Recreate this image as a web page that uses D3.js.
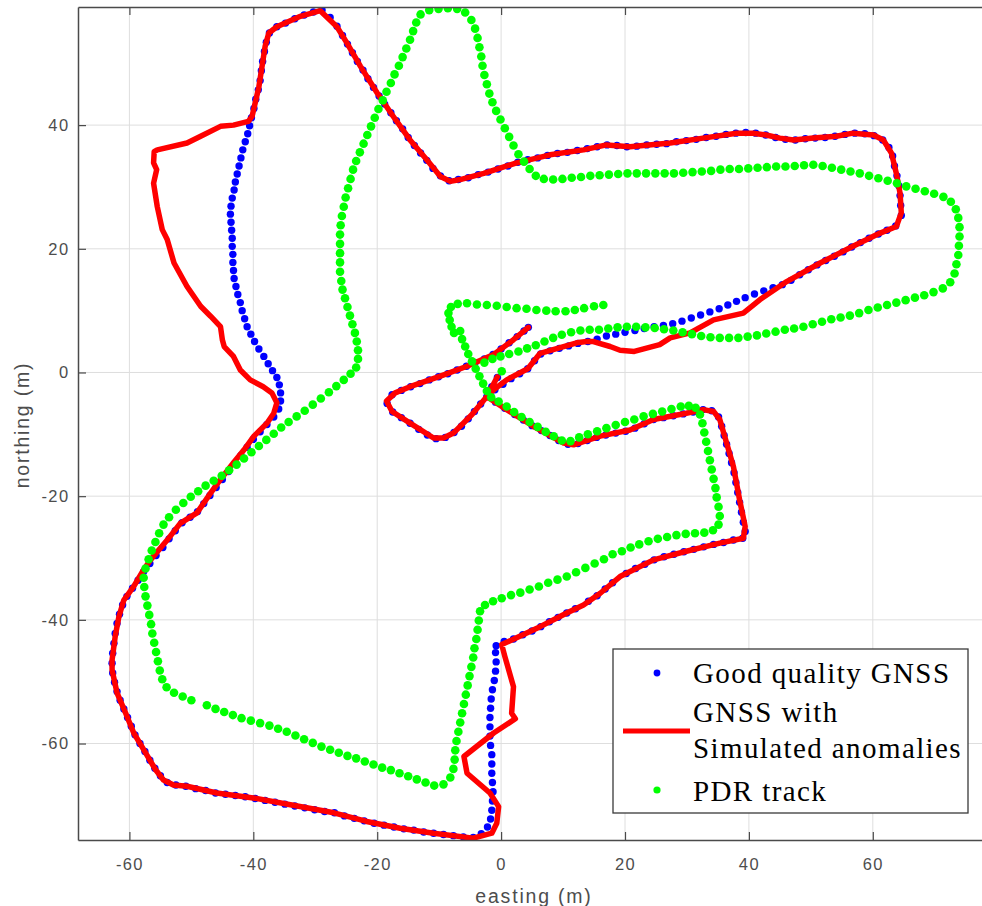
<!DOCTYPE html>
<html><head><meta charset="utf-8">
<script src="https://cdn.jsdelivr.net/npm/d3@7"></script>
<style>body{margin:0;background:#fff}svg{display:block}</style>
</head><body>
<svg id="chart" width="982" height="906"></svg>
<script>
const xTicks = [-60, -40, -20, 0, 20, 40, 60];
const yTicks = [-60, -40, -20, 0, 20, 40];
const xLabel = "easting (m)";
const yLabel = "northing (m)";
const legendLabels = ["Good quality GNSS", "GNSS with", "Simulated anomalies", "PDR track"];

// Good quality GNSS (blue dots), [easting, northing]
const goodGnss = [
[-0.6,-0.8],[-1.5,-2.3],[-2.3,-3.9],[-0.9,-4.8],[0.6,-5.8],[2.2,-6.8],[3.6,-7.7],[5.0,-8.6],[6.5,-9.4],[7.9,-10.2],[9.3,-11.0],[10.8,-11.6],
[12.4,-11.5],[13.9,-11.0],[15.4,-10.5],[16.9,-10.1],[18.5,-9.8],[20.1,-9.5],[21.6,-9.0],[23.1,-8.3],[24.6,-7.6],[26.2,-7.3],[27.8,-7.0],[29.4,-6.7],
[31.0,-6.4],[32.6,-6.0],[34.0,-6.2],[35.1,-7.2],[35.6,-8.7],[36.0,-10.2],[36.4,-11.6],[36.8,-13.1],[37.2,-14.6],[37.6,-16.2],[37.9,-17.8],[38.2,-19.4],
[38.5,-21.0],[38.8,-22.6],[39.1,-24.2],[39.4,-25.7],[39.0,-26.8],[37.5,-27.1],[35.9,-27.5],[34.3,-27.8],[32.7,-28.2],[31.1,-28.6],[29.5,-29.0],[27.9,-29.4],
[26.3,-29.8],[24.7,-30.3],[23.2,-31.0],[21.7,-31.7],[20.2,-32.5],[18.0,-34.0],[16.8,-35.0],[15.5,-36.1],[14.1,-37.0],[12.0,-38.2],[10.6,-38.9],[9.2,-39.6],
[7.8,-40.3],[6.4,-41.1],[5.0,-41.8],[3.5,-42.4],[2.0,-43.1],[0.5,-43.5],[-0.8,-44.2],[-0.9,-45.3],[-0.8,-46.8],[-0.9,-48.3],[-1.1,-49.8],[-1.4,-51.3],
[-1.6,-52.8],[-1.7,-54.3],[-1.8,-55.8],[-1.8,-57.3],[-1.8,-58.8],[-1.7,-60.3],[-1.5,-61.8],[-1.5,-63.3],[-1.5,-64.8],[-1.4,-66.3],[-1.3,-67.8],[-1.4,-69.3],
[-1.5,-70.8],[-1.7,-72.2],[-2.2,-73.5],[-3.2,-74.6],[-4.5,-75.2],[-6.1,-75.1],[-7.7,-74.9],[-9.3,-74.7],[-10.9,-74.5],[-12.5,-74.3],[-14.1,-74.0],[-15.7,-73.8],
[-17.3,-73.5],[-18.9,-73.2],[-20.5,-72.9],[-22.1,-72.5],[-23.7,-72.1],[-25.3,-71.7],[-26.9,-71.2],[-28.5,-71.0],[-30.1,-70.7],[-31.7,-70.4],[-33.3,-70.1],[-34.9,-69.8],
[-36.5,-69.5],[-38.1,-69.2],[-39.7,-68.9],[-41.3,-68.6],[-42.9,-68.4],[-44.5,-68.2],[-46.1,-68.0],[-47.7,-67.6],[-49.3,-67.3],[-50.9,-66.9],[-52.5,-66.7],[-53.9,-66.3],
[-55.0,-65.2],[-55.9,-64.0],[-56.7,-62.7],[-57.5,-61.3],[-58.3,-60.0],[-59.1,-58.6],[-59.7,-57.2],[-60.3,-55.8],[-60.9,-54.4],[-61.5,-53.0],[-62.0,-51.6],[-62.4,-50.1],
[-62.7,-48.6],[-62.8,-47.0],[-62.7,-45.4],[-62.5,-43.8],[-62.3,-42.2],[-62.0,-40.6],[-61.6,-39.1],[-61.1,-37.6],[-60.4,-36.2],[-59.5,-34.9],[-58.6,-33.6],[-57.7,-32.2],
[-56.7,-30.9],[-55.7,-29.6],[-54.6,-28.3],[-53.6,-26.9],[-52.6,-25.6],[-51.5,-24.3],[-50.2,-23.4],[-49.0,-22.5],[-48.0,-21.2],[-47.0,-19.9],[-46.0,-18.6],[-45.0,-17.3],
[-44.0,-16.0],[-43.0,-14.7],[-42.0,-13.4],[-41.0,-12.1],[-40.0,-10.8],[-38.9,-9.6],[-37.8,-8.4],[-36.7,-7.2],[-35.9,-5.9],[-35.6,-4.6],[-35.6,-3.3],[-35.8,-2.0],
[-36.2,-0.8],[-36.9,0.3],[-37.6,1.4],[-38.3,2.6],[-39.1,3.8],[-39.8,5.0],[-40.4,6.2],[-41.0,7.4],[-41.4,8.7],[-41.8,10.0],[-42.1,11.3],[-42.5,12.6],
[-42.8,13.9],[-43.1,15.2],[-43.2,16.5],[-43.3,17.8],[-43.3,19.1],[-43.4,20.4],[-43.4,21.7],[-43.5,23.0],[-43.6,24.3],[-43.7,25.6],[-43.6,26.9],[-43.4,28.2],
[-43.1,29.5],[-42.9,30.8],[-42.6,32.1],[-42.3,33.4],[-42.0,34.7],[-41.7,36.0],[-41.3,37.3],[-40.9,38.6],[-40.6,39.9],[-40.3,41.2],[-39.9,42.7],[-39.6,44.2],
[-39.2,45.7],[-38.9,47.2],[-38.7,48.8],[-38.5,50.3],[-38.2,51.9],[-37.9,53.4],[-37.4,54.9],[-36.2,55.9],[-34.8,56.5],[-33.3,57.2],[-31.8,57.8],[-30.3,58.3],
[-28.9,58.6],[-27.6,57.4],[-26.5,56.0],[-25.6,54.5],[-24.8,53.1],[-24.0,51.7],[-23.2,50.3],[-22.3,48.9],[-21.5,47.5],[-20.6,46.1],[-19.7,44.7],[-18.8,43.4],
[-17.8,42.0],[-16.9,40.7],[-15.9,39.4],[-15.0,38.0],[-14.0,36.7],[-13.0,35.5],[-12.0,34.3],[-11.0,33.0],[-9.8,31.8],[-8.4,31.0],[-6.9,31.2],[-5.3,31.5],
[-3.7,32.0],[-2.1,32.4],[-0.5,32.9],[1.1,33.4],[2.7,34.0],[4.3,34.4],[5.9,34.7],[7.5,35.1],[9.1,35.4],[10.7,35.6],[12.3,35.9],[13.9,36.2],
[15.5,36.5],[17.1,36.8],[18.7,36.7],[20.3,36.5],[21.9,36.6],[23.5,36.8],[25.1,36.9],[26.7,37.0],[28.3,37.3],[29.9,37.5],[31.5,37.7],[33.1,38.0],
[34.7,38.2],[36.3,38.5],[37.9,38.7],[39.5,38.8],[41.1,38.7],[42.7,38.4],[44.3,38.0],[45.9,37.7],[47.5,37.6],[49.1,37.8],[50.7,37.9],[52.3,38.0],
[53.9,38.2],[55.5,38.5],[57.1,38.7],[58.7,38.6],[60.2,38.3],[61.6,37.6],[62.6,36.4],[63.2,35.0],[63.5,33.4],[63.9,31.8],[64.2,30.2],[64.4,28.6],
[64.5,27.0],[64.6,25.4],[63.7,23.7],[62.3,23.0],[60.9,22.4],[59.4,21.7],[58.0,21.0],[56.6,20.3],[55.2,19.5],[53.8,18.8],[52.4,18.1],[51.0,17.4],
[49.6,16.6],[48.2,15.8],[46.8,14.9],[45.4,14.2],[43.9,13.7],[42.4,13.2],[40.9,12.7],[39.4,12.1],[38.0,11.5],[36.6,10.9],[35.2,10.3],[33.7,9.8],
[32.2,9.3],[30.7,8.8],[29.2,8.3],[27.7,7.9],[26.2,7.6],[24.7,7.4],[23.1,7.1],[21.6,6.8],[20.0,6.5],[18.5,6.2],[17.0,5.9],[15.5,5.4],
[14.0,5.0],[12.4,4.7],[10.9,4.3],[9.4,3.9],[7.9,3.5],[6.4,3.0],[5.4,1.9],[4.3,0.6],[3.0,-0.2],[1.6,-1.0],[0.3,-1.9],[-1.0,-2.8],
[-2.2,-3.8],[-3.3,-5.1],[-4.3,-6.3],[-5.3,-7.5],[-6.4,-8.7],[-7.6,-9.7],[-9.0,-10.5],[-10.5,-10.7],[-11.9,-10.1],[-13.3,-9.2],[-14.7,-8.2],[-16.1,-7.3],
[-17.5,-6.4],[-18.4,-5.0],[-17.6,-3.6],[-16.1,-2.9],[-14.6,-2.3],[-13.1,-1.8],[-11.6,-1.2],[-10.1,-0.7],[-8.6,-0.2],[-7.1,0.4],[-5.6,1.0],[-4.2,1.6],
[-2.7,2.2],[-1.3,2.9],[0.0,3.8],[1.3,4.8],[2.6,5.8],[3.7,6.7],[4.4,7.3]
];

// GNSS with simulated anomalies (red line), [easting, northing]
const anomalyGnss = [
[-0.6,-0.7],[-2.3,-3.9],[0.9,-6.0],[5.2,-8.7],[10.1,-11.4],[11.7,-11.7],[16.0,-10.3],[20.8,-9.3],[24.6,-7.6],[29.9,-6.6],[32.6,-6.0],[34.3,-6.3],
[35.3,-7.6],[36.4,-11.4],[37.5,-15.2],[38.5,-20.6],[39.4,-24.9],[39.1,-26.8],[35.3,-27.6],[29.9,-28.9],[24.6,-30.3],[19.2,-33.0],[16.0,-35.7],[13.3,-37.6],
[10.6,-38.9],[6.3,-41.1],[2.5,-42.9],[0.1,-44.0],[0.6,-45.9],[2.0,-50.8],[1.7,-55.1],[2.3,-56.0],[-1.2,-58.3],[-6.0,-62.1],[-5.5,-64.8],[-1.8,-68.0],
[-0.4,-70.2],[-0.7,-72.9],[-1.5,-74.5],[-4.5,-75.3],[-10.9,-74.5],[-16.3,-73.7],[-21.7,-72.6],[-27.0,-71.2],[-34.0,-69.9],[-40.0,-68.8],[-45.9,-68.0],[-50.7,-66.9],
[-52.9,-66.7],[-54.5,-65.9],[-55.8,-64.2],[-57.7,-61.0],[-59.3,-58.3],[-60.6,-55.1],[-62.0,-51.8],[-62.8,-48.1],[-62.8,-46.5],[-62.3,-42.7],[-61.7,-39.5],[-60.9,-36.8],
[-59.3,-34.6],[-57.7,-31.9],[-56.6,-30.3],[-53.9,-27.1],[-51.8,-24.4],[-49.1,-22.7],[-46.9,-19.5],[-45.3,-17.3],[-43.2,-14.6],[-41.5,-12.5],[-39.9,-10.3],[-37.8,-8.2],
[-36.7,-6.6],[-36.2,-4.9],[-37.0,-3.3],[-38.4,-2.3],[-40.5,-1.2],[-42.1,0.4],[-43.2,2.6],[-44.7,4.2],[-45.0,5.3],[-45.3,7.4],[-46.9,9.1],[-48.5,10.7],
[-50.7,13.9],[-52.8,17.7],[-53.9,21.5],[-54.7,23.1],[-55.5,26.8],[-56.1,30.6],[-55.6,32.8],[-56.1,33.9],[-56.0,35.7],[-55.5,36.0],[-50.7,37.1],[-48.5,38.2],
[-45.3,39.8],[-43.2,40.0],[-40.8,40.6],[-40.2,41.4],[-39.1,46.2],[-38.1,52.7],[-37.5,54.9],[-36.2,55.9],[-32.4,57.6],[-29.2,58.5],[-26.5,55.9],[-24.9,53.3],
[-22.7,49.5],[-20.0,45.2],[-17.4,41.4],[-14.7,37.6],[-12.0,34.4],[-9.8,31.7],[-8.2,30.9],[-6.6,31.2],[-2.8,32.2],[2.5,33.9],[7.9,35.2],[13.3,36.0],
[17.0,36.8],[20.8,36.5],[27.3,37.1],[32.6,37.9],[38.0,38.7],[40.7,38.7],[42.8,38.4],[45.0,37.9],[47.2,37.6],[50.4,37.9],[54.1,38.2],[56.8,38.7],
[60.1,38.4],[61.7,37.6],[63.0,35.5],[63.8,32.2],[64.4,29.0],[64.6,25.8],[63.8,23.6],[61.1,22.5],[56.8,20.4],[51.5,17.7],[46.1,14.7],[41.8,11.8],
[39.1,9.6],[34.3,8.5],[30.5,6.4],[27.3,5.6],[25.6,4.5],[21.5,3.4],[19.2,3.6],[17.6,4.2],[14.9,5.0],[13.8,5.0],[12.2,4.8],[8.4,3.7],
[6.3,3.1],[5.5,2.1],[4.3,0.6],[0.9,-1.2],[-1.2,-2.8],[-2.3,-3.9],[-4.7,-6.8],[-7.7,-9.8],[-9.3,-10.6],[-10.9,-10.6],[-14.7,-8.2],[-17.6,-6.3],
[-18.5,-4.6],[-17.1,-3.3],[-14.7,-2.3],[-9.8,-0.6],[-5.5,1.0],[-1.2,2.9],[2.0,5.3],[4.4,7.3]
];

// PDR track (green dots), [easting, northing]
const pdrTrack = [
[0.1,0.2],
[16.5,10.9],[15.0,10.7],[13.4,10.4],[11.9,10.1],[10.4,9.9],[8.8,9.9],[7.3,10.0],[5.7,10.1],[4.1,10.3],[2.5,10.4],[0.9,10.6],[-0.7,10.8],
[-2.3,10.9],[-3.9,11.0],[-5.5,11.2],[-7.0,11.1],[-8.1,10.6],[-8.5,9.6],[-8.3,8.5],[-8.0,7.4],[-7.6,6.4],[-6.6,6.7],[-6.3,5.4],[-5.8,4.2],
[-5.3,3.0],[-4.7,1.8],[-4.1,0.6],[-3.5,-0.6],[-2.9,-1.8],[-2.3,-3.0],[-1.6,-4.0],[-0.4,-4.7],[0.9,-5.5],[2.1,-6.4],[3.3,-7.2],[4.6,-8.0],
[5.9,-8.8],[7.2,-9.6],[8.5,-10.3],[9.8,-11.0],[11.2,-11.1],[12.6,-10.5],[14.0,-10.0],[15.5,-9.5],[17.0,-9.0],[18.5,-8.5],[20.0,-8.0],[21.5,-7.6],
[23.0,-7.1],[24.5,-6.7],[26.0,-6.3],[27.5,-5.9],[29.0,-5.5],[30.3,-5.4],[31.4,-5.7],[32.1,-6.8],[32.5,-8.2],[32.8,-9.7],[33.1,-11.2],[33.4,-12.7],
[33.7,-14.2],[34.0,-15.7],[34.3,-17.2],[34.6,-18.7],[34.8,-20.2],[35.1,-21.7],[35.3,-23.2],[35.1,-24.6],[34.2,-25.5],[32.8,-25.9],[31.3,-26.0],[29.8,-26.1],
[28.3,-26.3],[26.8,-26.6],[25.3,-26.9],[23.8,-27.3],[22.3,-27.8],[20.9,-28.3],[19.5,-28.9],[18.0,-29.4],[16.6,-30.2],[15.1,-30.9],[13.6,-31.6],[12.1,-32.3],
[10.6,-33.0],[9.1,-33.5],[7.6,-34.0],[6.1,-34.6],[4.6,-35.1],[3.1,-35.6],[1.6,-36.0],[0.1,-36.5],[-1.3,-37.0],[-2.6,-37.6],[-3.4,-38.6],[-3.6,-40.1],
[-3.8,-41.6],[-4.0,-43.1],[-4.3,-44.6],[-4.5,-46.1],[-4.8,-47.6],[-5.1,-49.1],[-5.4,-50.6],[-5.7,-52.1],[-6.0,-53.6],[-6.3,-55.1],[-6.6,-56.6],[-6.9,-58.1],
[-7.2,-59.6],[-7.4,-61.1],[-7.5,-62.6],[-7.7,-64.1],[-8.2,-65.5],[-9.3,-66.6],[-10.8,-66.8],[-12.2,-66.3],[-13.6,-65.8],[-15.0,-65.3],[-16.4,-64.8],[-17.8,-64.3],
[-19.2,-63.9],[-20.6,-63.4],[-22.0,-62.9],[-23.4,-62.4],[-24.8,-62.0],[-26.2,-61.5],[-27.6,-61.0],[-29.0,-60.5],[-30.4,-59.9],[-31.8,-59.3],[-33.2,-58.7],[-34.6,-58.1],
[-36.0,-57.6],[-37.4,-57.1],[-38.9,-56.7],[-40.4,-56.3],[-41.9,-55.9],[-43.3,-55.4],[-44.7,-54.9],[-46.1,-54.4],[-47.5,-53.8],[-50.0,-53.0],[-51.4,-52.4],[-52.8,-51.8],
[-54.0,-50.9],[-54.7,-49.6],[-55.1,-48.2],[-55.4,-46.7],[-55.7,-45.2],[-56.0,-43.7],[-56.3,-42.2],[-56.5,-40.7],[-56.8,-39.2],[-57.1,-37.7],[-57.4,-36.2],[-57.6,-34.7],
[-57.7,-33.2],[-57.4,-31.7],[-56.9,-30.2],[-56.4,-28.8],[-55.8,-27.4],[-55.2,-26.0],[-54.5,-24.6],[-53.6,-23.4],[-52.5,-22.2],[-51.3,-21.1],[-50.1,-20.1],[-48.9,-19.2],
[-47.7,-18.3],[-46.4,-17.5],[-45.1,-16.7],[-43.9,-15.8],[-42.7,-14.9],[-41.5,-13.9],[-40.3,-12.9],[-39.1,-11.9],[-37.9,-10.9],[-36.7,-9.9],[-35.5,-8.9],[-34.3,-8.0],
[-33.0,-7.1],[-31.7,-6.2],[-30.4,-5.2],[-29.1,-4.2],[-27.8,-3.2],[-26.6,-2.2],[-25.4,-1.2],[-24.3,-0.2],[-23.4,0.8],[-23.1,2.2],[-23.1,3.6],[-23.3,5.0],
[-23.6,6.4],[-24.0,7.8],[-24.4,9.2],[-24.8,10.6],[-25.2,12.0],[-25.6,13.4],[-25.8,14.8],[-26.0,16.3],[-26.0,17.8],[-26.0,19.3],[-26.0,20.8],[-26.0,22.3],
[-25.9,23.8],[-25.7,25.3],[-25.4,26.8],[-25.1,28.3],[-24.7,29.8],[-24.3,31.3],[-23.9,32.8],[-23.4,34.2],[-22.8,35.6],[-22.2,37.0],[-21.6,38.4],[-21.0,39.8],
[-20.4,41.2],[-19.8,42.6],[-19.1,44.0],[-18.5,45.4],[-17.8,46.8],[-17.2,48.2],[-16.5,49.6],[-15.9,51.0],[-15.3,52.4],[-14.7,53.8],[-14.2,55.2],[-13.7,56.6],
[-13.0,57.9],[-11.6,58.6],[-10.1,58.8],[-8.6,58.9],[-7.1,58.8],[-5.8,58.2],[-4.8,57.0],[-4.2,55.6],[-3.8,54.1],[-3.5,52.6],[-3.2,51.1],[-3.0,49.6],
[-2.7,48.1],[-2.3,46.6],[-1.9,45.1],[-1.4,43.7],[-0.8,42.3],[-0.1,40.9],[0.6,39.5],[1.3,38.1],[2.0,36.7],[2.8,35.3],[3.7,34.1],[4.6,32.9],
[5.6,31.8],[6.9,31.3],[8.4,31.2],[9.9,31.3],[11.4,31.5],[12.9,31.6],[14.4,31.8],[15.9,31.9],[17.4,32.0],[18.9,32.1],[20.4,32.2],[21.9,32.2],
[23.4,32.2],[24.9,32.2],[26.4,32.2],[27.9,32.2],[29.4,32.3],[30.9,32.4],[32.4,32.5],[33.9,32.6],[35.4,32.8],[36.9,32.9],[38.4,32.9],[39.9,33.0],
[41.4,33.1],[42.9,33.2],[44.4,33.3],[45.9,33.3],[47.4,33.4],[48.9,33.5],[50.4,33.6],[51.9,33.4],[53.4,33.1],[54.9,32.8],[56.4,32.5],[57.9,32.2],
[59.4,31.8],[60.9,31.4],[62.4,31.0],[63.9,30.6],[65.4,30.1],[66.9,29.7],[68.4,29.3],[69.9,28.9],[71.4,28.4],[72.6,27.6],[73.4,26.4],[73.8,25.0],
[74.0,23.5],[74.0,22.0],[73.9,20.5],[73.8,19.0],[73.5,17.5],[73.2,16.0],[72.5,14.6],[71.3,13.6],[69.8,13.0],[68.3,12.5],[66.8,12.1],[65.3,11.7],
[63.8,11.3],[62.3,10.9],[60.8,10.5],[59.3,10.1],[57.8,9.6],[56.3,9.2],[54.8,8.9],[53.3,8.6],[51.8,8.2],[50.3,7.8],[48.8,7.4],[47.3,7.1],
[45.8,6.9],[44.3,6.6],[42.8,6.3],[41.3,6.0],[39.8,5.8],[38.3,5.6],[36.8,5.6],[35.3,5.6],[33.8,5.7],[32.3,5.9],[30.8,6.2],[29.3,6.5],
[27.8,6.8],[26.3,7.0],[24.8,7.2],[23.3,7.3],[21.8,7.4],[20.3,7.4],[18.8,7.3],[17.3,7.1],[15.8,6.9],[14.3,6.9],[12.8,6.8],[11.3,6.5],
[9.8,6.1],[8.4,5.6],[7.0,5.0],[5.6,4.4],[4.2,3.9],[2.8,3.4],[1.3,3.0],[-0.1,2.6],[-1.4,2.2],[-2.7,1.6]
];

const svg = d3.select("#chart");
const L = 78, R = 990.5, T = 7, B = 840;
const x = d3.scaleLinear().domain([-68.3, 79]).range([L, R]);
const y = d3.scaleLinear().domain([-75.6, 59.1]).range([B, T]);

svg.append("rect").attr("width", 982).attr("height", 906).attr("fill", "#fff");

svg.append("defs").append("clipPath").attr("id", "plotclip")
  .append("rect").attr("x", L).attr("y", T).attr("width", R - L).attr("height", B - T);

// grid
const grid = svg.append("g").attr("stroke", "#dedede").attr("stroke-width", 1);
grid.selectAll("line.gx").data(xTicks).join("line").attr("class", "gx")
  .attr("x1", d => x(d)).attr("x2", d => x(d)).attr("y1", T).attr("y2", B);
grid.selectAll("line.gy").data(yTicks).join("line").attr("class", "gy")
  .attr("x1", L).attr("x2", R).attr("y1", d => y(d)).attr("y2", d => y(d));

const plot = svg.append("g").attr("clip-path", "url(#plotclip)");

plot.append("g").selectAll("circle").data(goodGnss).join("circle")
  .attr("cx", d => x(d[0])).attr("cy", d => y(d[1])).attr("r", 3.7).attr("fill", "#0000ff");

plot.append("path").datum(anomalyGnss)
  .attr("d", d3.line().x(d => x(d[0])).y(d => y(d[1])))
  .attr("fill", "none").attr("stroke", "#ff0000").attr("stroke-width", 5.5)
  .attr("stroke-linejoin", "round").attr("stroke-linecap", "round");

plot.append("g").selectAll("circle").data(pdrTrack).join("circle")
  .attr("cx", d => x(d[0])).attr("cy", d => y(d[1])).attr("r", 4.3).attr("fill", "#00ff00");

// axes
const axisColor = "#4a4a4a";
const tickFont = "'Liberation Sans', Arial, Helvetica, sans-serif";
const fmt = d => String(d);
function styleAxis(g) {
  g.select(".domain").attr("stroke", axisColor).attr("stroke-width", 1.5);
  g.selectAll(".tick line").attr("stroke", axisColor).attr("stroke-width", 1.2);
  g.selectAll(".tick text").attr("fill", "#4d4d4d").style("font-size", "16.5px")
    .style("font-family", tickFont).style("letter-spacing", "1.4px");
}
const gb = svg.append("g").attr("transform", `translate(0,${B})`)
  .call(d3.axisBottom(x).tickValues(xTicks).tickFormat(fmt).tickSize(-8).tickSizeOuter(0).tickPadding(18));
styleAxis(gb);
const gt = svg.append("g").attr("transform", `translate(0,${T})`)
  .call(d3.axisTop(x).tickValues(xTicks).tickSize(-8).tickSizeOuter(0).tickFormat(""));
styleAxis(gt);
const gl = svg.append("g").attr("transform", `translate(${L},0)`)
  .call(d3.axisLeft(y).tickValues(yTicks).tickFormat(fmt).tickSize(-8).tickSizeOuter(0).tickPadding(8.5));
styleAxis(gl);

// axis labels
svg.append("text").attr("x", 534).attr("y", 903).attr("text-anchor", "middle")
  .attr("fill", "#4d4d4d").style("font-family", tickFont).style("font-size", "19.5px")
  .style("letter-spacing", "1.8px").text(xLabel);
svg.append("text").attr("transform", "translate(29,425) rotate(-90)").attr("text-anchor", "middle")
  .attr("fill", "#4d4d4d").style("font-family", tickFont).style("font-size", "19.5px")
  .style("letter-spacing", "1.8px").text(yLabel);

// legend
const lg = svg.append("g");
lg.append("rect").attr("x", 613).attr("y", 649).attr("width", 355).attr("height", 164)
  .attr("fill", "#fff").attr("stroke", "#3a3a3a").attr("stroke-width", 1.3);
lg.append("circle").attr("cx", 657).attr("cy", 673).attr("r", 3.4).attr("fill", "#0000ff");
lg.append("line").attr("x1", 623).attr("x2", 690).attr("y1", 731).attr("y2", 731)
  .attr("stroke", "#ff0000").attr("stroke-width", 5);
lg.append("circle").attr("cx", 657).attr("cy", 790).attr("r", 3.6).attr("fill", "#00ff00");
const legendY = [683, 722, 758, 801];
lg.selectAll("text").data(legendLabels).join("text")
  .attr("x", 693).attr("y", (d, i) => legendY[i]).attr("fill", "#000")
  .style("font-family", "'Liberation Serif', 'Times New Roman', Times, serif")
  .style("font-size", "29px").style("letter-spacing", "1.4px").text(d => d);
</script>
</body></html>
